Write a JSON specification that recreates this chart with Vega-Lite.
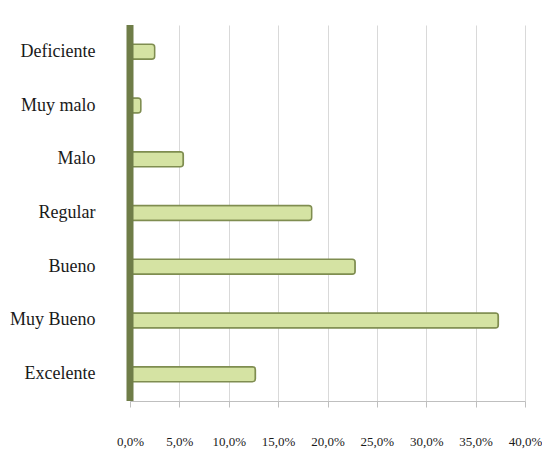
{
  "$schema": "https://vega.github.io/schema/vega-lite/v6.json",
  "autosize": "none",
  "width": 395,
  "height": 376,
  "padding": {"left": 130, "top": 25, "right": 17, "bottom": 54},
  "background": "white",
  "config": {"view": {"stroke": null}, "font": "DejaVu Serif"},
  "data": {
    "values": [
      {"cat": "Deficiente", "pct": 2.5},
      {"cat": "Muy malo", "pct": 1.1},
      {"cat": "Malo", "pct": 5.4},
      {"cat": "Regular", "pct": 18.4},
      {"cat": "Bueno", "pct": 22.8},
      {"cat": "Muy Bueno", "pct": 37.3},
      {"cat": "Excelente", "pct": 12.7}
    ]
  },
  "layer": [
    {
      "mark": {"type": "bar", "size": 15, "fill": "#d5e3a3", "stroke": "#7f8d50", "strokeWidth": 1.5, "cornerRadiusEnd": 3},
      "encoding": {
        "y": {
          "field": "cat", "type": "nominal", "sort": null,
          "axis": {"title": null, "domain": false, "ticks": false, "labelPadding": 35, "labelFontSize": 18, "labelColor": "#1a1a1a", "labelFont": "Liberation Serif, DejaVu Serif, serif"}
        },
        "x": {
          "field": "pct", "type": "quantitative",
          "scale": {"domain": [0, 40], "nice": false},
          "axis": {
            "title": null, "values": [0, 5, 10, 15, 20, 25, 30, 35, 40],
            "labelExpr": "replace(format(datum.value, '.1f'), '.', ',') + '%'",
            "labelFlush": false, "labelOverlap": false,
            "grid": true, "gridColor": "#d9d9d9", "gridWidth": 1,
            "domainColor": "#bfbfbf", "tickColor": "#bfbfbf", "tickSize": 6,
            "labelPadding": 28, "labelFontSize": 13, "labelColor": "#1a1a1a", "labelFont": "Liberation Serif, DejaVu Serif, serif"
          }
        }
      }
    },
    {
      "data": {"values": [{"x": 0}]},
      "mark": {"type": "rule", "color": "#6f7d48", "strokeWidth": 7},
      "encoding": {"x": {"field": "x", "type": "quantitative"}}
    }
  ]
}
